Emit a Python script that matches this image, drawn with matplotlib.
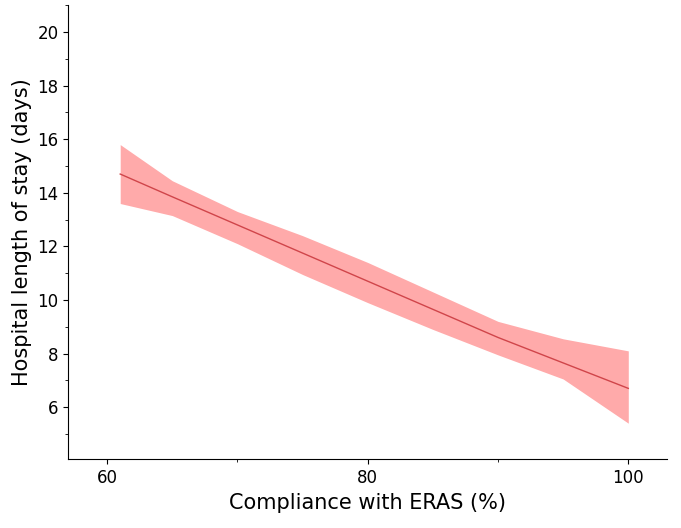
import matplotlib
matplotlib.use("Agg")
import matplotlib.pyplot as plt
from matplotlib.ticker import MultipleLocator

# values
compliance = [61, 65, 70, 75, 80, 85, 90, 95, 100]
los_fit = [14.7, 13.85, 12.8, 11.75, 10.7, 9.65, 8.6, 7.65, 6.7]
los_upper = [15.8, 14.45, 13.3, 12.4, 11.4, 10.3, 9.2, 8.55, 8.1]
los_lower = [13.6, 13.15, 12.1, 10.95, 9.9, 8.9, 7.95, 7.05, 5.4]

fig, ax = plt.subplots(figsize=(6.81, 5.28), dpi=100)
fig.subplots_adjust(left=0.1, right=0.98, top=0.99, bottom=0.13)

ax.fill_between(compliance, los_lower, los_upper, color="#ffaaaa", lw=0)
ax.plot(compliance, los_fit, color="#d0454a", lw=1)

ax.set_xlim(57, 103)
ax.set_ylim(4.05, 21)
ax.xaxis.set_major_locator(MultipleLocator(20))
ax.xaxis.set_minor_locator(MultipleLocator(10))
ax.yaxis.set_major_locator(MultipleLocator(2))
ax.yaxis.set_minor_locator(MultipleLocator(1))
ax.spines["top"].set_visible(False)
ax.spines["right"].set_visible(False)
ax.tick_params(labelsize=12)
ax.set_xlabel("Compliance with ERAS (%)", fontsize=15)
ax.set_ylabel("Hospital length of stay (days)", fontsize=15)

fig.savefig("out.png")
